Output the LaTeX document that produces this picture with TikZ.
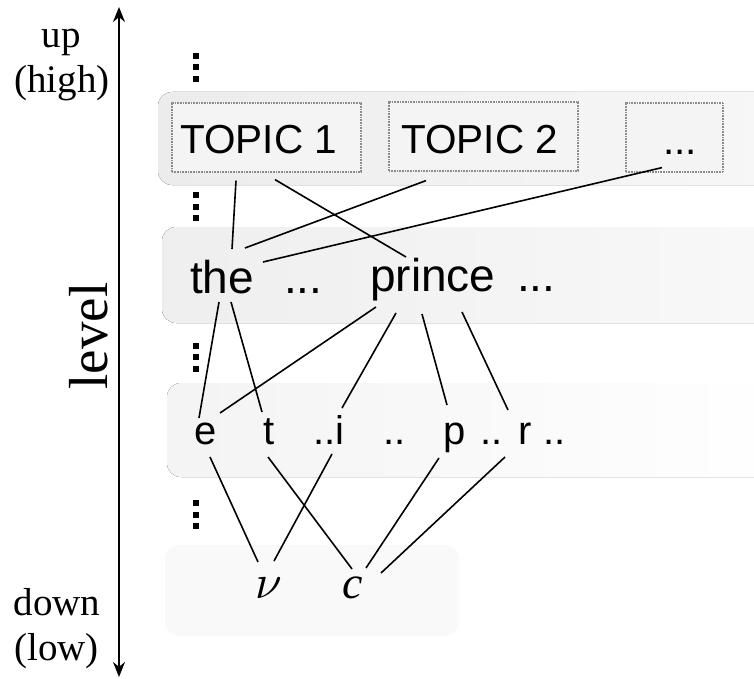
\documentclass[tikz,border=0pt]{standalone}
\usepackage{fontspec}
\setmainfont{Liberation Serif}
\newfontfamily\sansf{Liberation Sans}
\usetikzlibrary{calc,arrows.meta}
\begin{document}
\begin{tikzpicture}[x=1pt,y=-1pt,
  band/.style={rounded corners=14pt, draw=none},
  tbox/.style={draw=gray!90, line width=1.2pt, dash pattern=on 0.9pt off 0.7pt, fill=gray!9, inner sep=0pt},
  word/.style={inner sep=0pt, anchor=base west, font=\sansf\fontsize{46}{50}\selectfont},
  topic/.style={inner sep=0pt, anchor=base west, font=\sansf\fontsize{40.5}{46}\selectfont},
  letter/.style={inner sep=0pt, anchor=base west, font=\sansf\fontsize{40}{46}\selectfont},
  leaf/.style={inner sep=0pt, anchor=base west, font=\fontsize{46}{50}\selectfont},
  side/.style={inner sep=0pt, anchor=base, font=\fontsize{39}{44}\selectfont},
  link/.style={line width=1.6pt, black},
  vd/.style={fill=black}
]
\useasboundingbox (0,0) rectangle (754,679);

% bands
\begin{scope}
\clip (0,0) rectangle (754,679);
\fill[band, left color=gray!15, right color=gray!6] (158,92) rectangle (790,185);
\fill[band, left color=gray!13, right color=gray!5] (162,227) rectangle (790,323);
\fill[band, left color=gray!9, right color=white] (167,383) rectangle (790,477);
\fill[band, fill=gray!5] (165,545) rectangle (459,636);
\end{scope}

% topic boxes
\node[tbox, minimum width=189pt, minimum height=69pt] (b1) at (266.5,137.5) {};
\node[tbox, minimum width=189pt, minimum height=69pt] (b2) at (483.5,136.5) {};
\node[tbox, minimum width=97pt, minimum height=69pt] (b3) at (674.5,137.5) {};
\node[topic] (t1) at (180,154) {TOPIC 1};
\node[topic] (t2) at (401,154) {TOPIC 2};
\node[topic] (t3) at (663,155) {...};

% words
\node[word] (the) at (190,293) {the};
\node[word] (dots1) at (284,293) {...};
\node[word] (prince) at (370,291) {prince};
\node[word] (dots2) at (517,291) {...};

% letters
\node[letter] (e) at (194,444) {e};
\node[letter] (t) at (263,444) {t};
\node[letter] (i) at (313,444) {..i};
\node[letter] (d3) at (383,444) {..};
\node[letter] (p) at (443,444) {p};
\node[letter] (d4) at (480,444) {..};
\node[letter] (r) at (518,444) {r};
\node[letter] (d5) at (543,444) {..};

% leaves
\node[inner sep=0pt, anchor=base west, scale=4.8] (nu) at (255,598) {$\nu$};
\node[leaf] (c) at (342,598) {\itshape c};

% vertical dots
\foreach \yc in {67.5,206.5,357,514.5}{
  \foreach \k in {-11.5,0,11.5}{
    \fill[vd] (193,\yc+\k-3) rectangle (199,\yc+\k+3);
  }
}

% axis
\coordinate (axtop) at (119,7);
\coordinate (axbot) at (119,677);
\draw[{Stealth[length=15pt,width=12pt]}-{Stealth[length=15pt,width=12pt]}, line width=2pt] (axbot) -- (axtop);
\node[side] (up) at (61,48) {up};
\node[side] (high) at (62,93) {(high)};
\node[side] (down) at (57,615) {down};
\node[side] (low) at (56.5,660) {(low)};
\node[inner sep=0pt, anchor=base, rotate=90, font=\fontsize{55}{60}\selectfont] (level) at (107,336) {level};

% topic -> words
\draw[link] ($(b1.south)+(-30.5,8)$) -- ($(the.base west)+(42,-44)$);
\draw[link] ($(b1.south)+(8.5,7)$) -- ($(prince.base west)+(36,-34)$);
\draw[link] ($(b2.south)+(-57.5,9)$) -- ($(the.base west)+(55,-45)$);
\draw[link] ($(b3.south)+(-12.5,-5)$) -- ($(the.base west)+(73,-31)$);

% words -> letters
\draw[link] ($(the.base west)+(29,9)$) -- ($(e.base west)+(5,-26)$);
\draw[link] ($(the.base west)+(41,9)$) -- ($(t.base west)+(-1,-32)$);
\draw[link] ($(prince.base west)+(6,16)$) -- ($(e.base west)+(26,-31)$);
\draw[link] ($(prince.base west)+(26,22)$) -- ($(i.base west)+(29,-36)$);
\draw[link] ($(prince.base west)+(52,23)$) -- ($(p.base west)+(4,-39)$);
\draw[link] ($(prince.base west)+(92,21)$) -- ($(r.base west)+(-10,-34)$);

% letters -> leaves
\draw[link] ($(e.base west)+(16,13)$) -- ($(nu.base west)+(3,-36)$);
\draw[link] ($(t.base west)+(5,13)$) -- ($(c.base west)+(10,-29)$);
\draw[link] ($(i.base west)+(19,10)$) -- ($(nu.base west)+(19,-37)$);
\draw[link] ($(p.base west)+(-4,14)$) -- ($(c.base west)+(24,-30)$);
\draw[link] ($(r.base west)+(-13,13)$) -- ($(c.base west)+(39,-25)$);
\end{tikzpicture}
\end{document}
